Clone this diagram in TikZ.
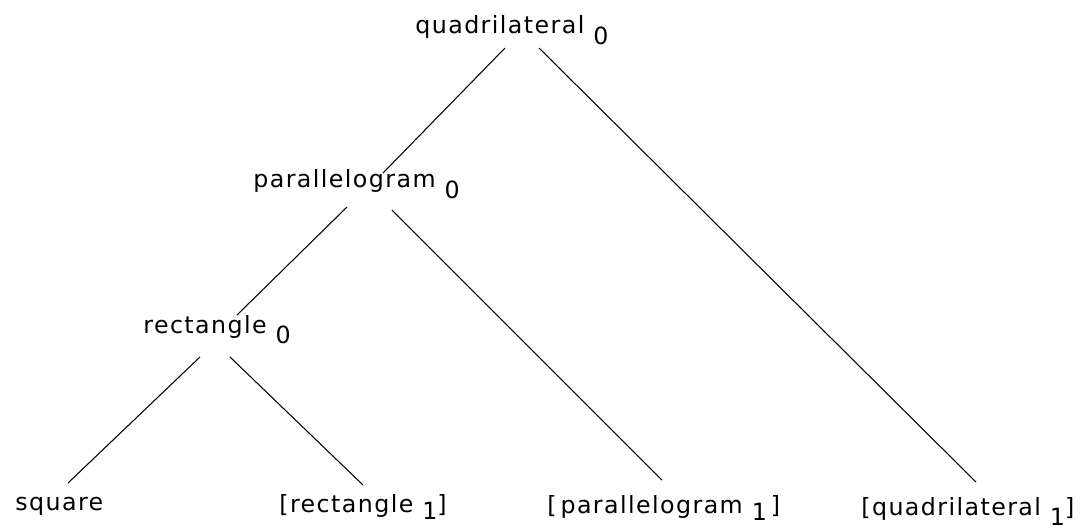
\documentclass[tikz,border=0pt]{standalone}
\usepackage{fontspec}
\setmainfont{DejaVu Sans}[LetterSpace=6]
\usepackage{xcolor}
\usepackage{tikz}

\newcommand{\lowidx}[2][6.5pt]{\raisebox{-#1}{#2}}

\begin{document}
\begin{tikzpicture}[
            x=0.02cm, y=-0.02cm,
            lbl/.style={inner sep=0pt, anchor=base west, font=\fontsize{13.5}{16}\selectfont},
            edge/.style={-, line width=0.6pt, black}
        ]
        \useasboundingbox (0,0) rectangle (1080,529);

        % Inner classes
        \node[lbl] (quad) at (415,33) {quadrilateral \lowidx[6.8pt]{0}};
        \node[lbl] (para) at (253,187) {parallelogram \lowidx[6.3pt]{0}};
        \node[lbl] (rect) at (143,333) {rectangle \lowidx[5.7pt]{0}};

        % Leaves
        \node[lbl] (square) at (15,510) {square};
        \node[lbl] (rectone) at (279,512) {[rectangle \lowidx[4pt]{1}]};
        \node[lbl] (paraone) at (547,513) {[\,parallelogram \lowidx[4pt]{1}\,]};
        \node[lbl] (quadone) at (861,515) {[quadrilateral \lowidx[6pt]{1}]};

        % Edges
        \draw[edge] ([shift={(90,15)}]quad.base west) -- ([shift={(130,-14)}]para.base west);
        \draw[edge] ([shift={(124,15)}]quad.base west) -- ([shift={(115,-33)}]quadone.base west);
        \draw[edge] ([shift={(94,20)}]para.base west) -- ([shift={(94,-18)}]rect.base west);
        \draw[edge] ([shift={(139,23)}]para.base west) -- ([shift={(115,-33)}]paraone.base west);
        \draw[edge] ([shift={(57,24)}]rect.base west) -- ([shift={(53,-27)}]square.base west);
        \draw[edge] ([shift={(87,24)}]rect.base west) -- ([shift={(84,-27)}]rectone.base west);

\end{tikzpicture}
\end{document}
